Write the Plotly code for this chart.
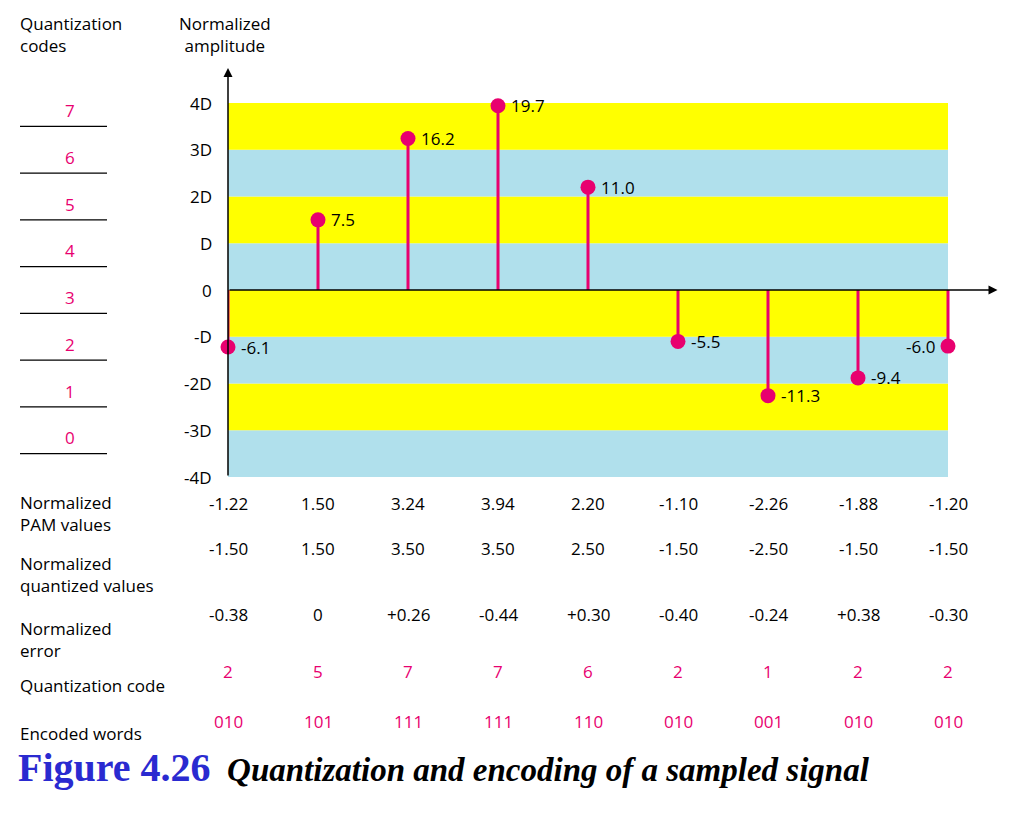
import plotly.graph_objects as go

# data
pam_values = [-1.22, 1.50, 3.24, 3.94, 2.20, -1.10, -2.26, -1.88, -1.20]
amp_labels = ["-6.1", "7.5", "16.2", "19.7", "11.0", "-5.5", "-11.3", "-9.4", "-6.0"]
pam_text = ["-1.22", "1.50", "3.24", "3.94", "2.20", "-1.10", "-2.26", "-1.88", "-1.20"]
quant_text = ["-1.50", "1.50", "3.50", "3.50", "2.50", "-1.50", "-2.50", "-1.50", "-1.50"]
error_text = ["-0.38", "0", "+0.26", "-0.44", "+0.30", "-0.40", "-0.24", "+0.38", "-0.30"]
codes = ["2", "5", "7", "7", "6", "2", "1", "2", "2"]
words = ["010", "101", "111", "111", "110", "010", "001", "010", "010"]
tick_labels = ["4D", "3D", "2D", "D", "0", "-D", "-2D", "-3D", "-4D"]
tick_vals = [4, 3, 2, 1, 0, -1, -2, -3, -4]
code_levels = [7, 6, 5, 4, 3, 2, 1, 0]

OFF = 8  # page body margin
W, H = 1033 - 2 * OFF, 825 - 2 * OFF
PINK = "#e8006f"
YELLOW = "#ffff00"
BLUE = "#b0e0ec"
FONT = "Open Sans"

fig = go.Figure()

def py(p):  # pixel row in screenshot -> paper y
    return 1 - (p - OFF) / H

def px(p):
    return (p - OFF) / W

# bands
for k in range(-4, 4):
    fig.add_shape(type="rect", x0=0, x1=8, y0=k, y1=k + 1, xref="x", yref="y",
                  fillcolor=YELLOW if k % 2 != 0 else BLUE, line_width=0, layer="below")

# axes arrows
fig.add_annotation(x=0, y=4.75, ax=0, ay=-4, xref="x", yref="y", axref="x", ayref="y",
                   showarrow=True, arrowhead=2, arrowsize=1.2, arrowwidth=1.5, arrowcolor="black", text="")
fig.add_annotation(x=8.55, y=0, ax=0, ay=0, xref="x", yref="y", axref="x", ayref="y",
                   showarrow=True, arrowhead=2, arrowsize=1.2, arrowwidth=1.5, arrowcolor="black", text="")
fig.add_annotation(x=8.55, y=-0.2, xref="x", yref="y", text="Time", showarrow=False,
                   xanchor="left", font=dict(size=17))

# y tick labels
for v, t in zip(tick_vals, tick_labels):
    fig.add_annotation(x=px(214), y=v, xref="paper", yref="y", text=t, showarrow=False,
                       xanchor="right", font=dict(size=17))

fig.add_annotation(x=px(225), y=py(10), xref="paper", yref="paper", text="Normalized<br>amplitude",
                   showarrow=False, xanchor="center", yanchor="top", align="center", font=dict(size=17))
fig.add_annotation(x=px(18), y=py(10), xref="paper", yref="paper", text="Quantization<br>codes",
                   showarrow=False, xanchor="left", yanchor="top", align="left", font=dict(size=17))

# quantization code column
for c, lvl in zip(code_levels, [3.5, 2.5, 1.5, 0.5, -0.5, -1.5, -2.5, -3.5]):
    fig.add_shape(type="line", x0=px(20), x1=px(107), y0=lvl, y1=lvl, xref="paper", yref="y",
                  line=dict(color="black", width=1.2))
    fig.add_annotation(x=px(63), y=lvl + 0.05, xref="paper", yref="y", text=str(c), showarrow=False,
                       yanchor="bottom", font=dict(size=17, color=PINK))

# stems
for i, v in enumerate(pam_values):
    fig.add_trace(go.Scatter(x=[i, i], y=[0, v], mode="lines", line=dict(color=PINK, width=3),
                             showlegend=False, hoverinfo="skip"))
fig.add_trace(go.Scatter(x=list(range(9)), y=pam_values, mode="markers",
                         marker=dict(color=PINK, size=15), showlegend=False, cliponaxis=False))
for i, (v, t) in enumerate(zip(pam_values, amp_labels)):
    if i == 8:
        fig.add_annotation(x=i - 0.12, y=v, text=t, showarrow=False, xanchor="right", font=dict(size=17))
    else:
        fig.add_annotation(x=i + 0.12, y=v, text=t, showarrow=False, xanchor="left", font=dict(size=17))

# table
rows = [
    ("Normalized<br>PAM values", pam_text, 489, 503, "black"),
    ("Normalized<br>quantized values", quant_text, 550, 562, "black"),
    ("Normalized<br>error", error_text, 615, 628, "black"),
    ("Quantization code", codes, 672, 685, PINK),
    ("Encoded words", words, 720, 735, PINK),
]
for label, vals, ly, vy, col in rows:
    fig.add_annotation(x=px(18), y=py(ly), xref="paper", yref="paper", text=label, showarrow=False,
                       xanchor="left", yanchor="top", align="left", font=dict(size=17))
    for i, t in enumerate(vals):
        fig.add_annotation(x=i, y=py(vy), xref="x", yref="paper", text=t, showarrow=False,
                           font=dict(size=17, color=col))

fig.add_annotation(
    x=px(16), y=py(792), xref="paper", yref="paper", showarrow=False, xanchor="left",
    text="<b><span style='color:#2a2ad0;font-size:40px'>Figure 4.26</span></b>"
         "  <b><i>Quantization and encoding of a sampled signal</i></b>",
    font=dict(family="Liberation Serif", size=33, color="black"))

fig.update_xaxes(range=[0, 8.5], domain=[px(228), px(993)], visible=False)
fig.update_yaxes(range=[-4, 4.8], domain=[py(477), py(65.6)], visible=False)
fig.update_layout(width=W, height=H, margin=dict(l=0, r=0, t=0, b=0),
                  plot_bgcolor="white", paper_bgcolor="white",
                  font=dict(family=FONT, size=17, color="black"))

fig.write_html("out.html")
